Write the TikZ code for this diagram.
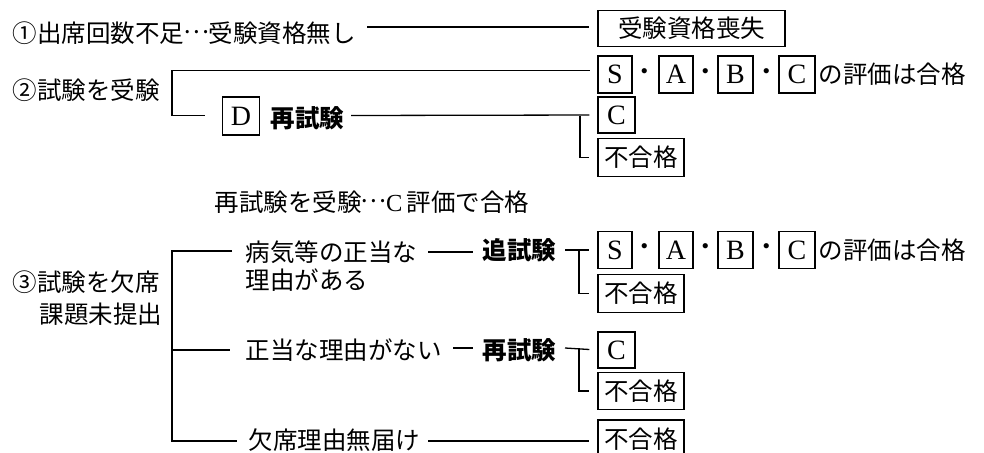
\documentclass[tikz,border=0pt]{standalone}
\usepackage{fontspec}
\setmainfont{Liberation Serif}
\newfontfamily\jp{Noto Sans CJK JP}
\newcommand{\midell}{\makebox[1em]{\raisebox{0.33em}{…}}}
\usetikzlibrary{calc}
\begin{document}
\begin{tikzpicture}[x=1pt,y=-1pt,line width=1.3pt,
  txt/.style={inner sep=0pt,anchor=base west,font=\jp\fontsize{24.5}{28}\selectfont},
  btxt/.style={inner sep=0pt,anchor=base west,font=\jp\bfseries\fontsize{24.5}{28}\selectfont},
  lbox/.style={draw,inner sep=0pt,minimum height=37pt,font=\fontsize{28}{30}\selectfont},
  jbox/.style={draw,inner sep=0pt,minimum height=38pt,font=\jp\fontsize{24.5}{28}\selectfont},
  dot/.style={inner sep=0pt,font=\jp\fontsize{24.5}{28}\selectfont},
  conn/.style={shorten >=8pt}]
\useasboundingbox (0,0) rectangle (984,452);
\clip (0,0) rectangle (984,452);

% ---- row 1
\node[txt] (t1) at (12,42) {①出席回数不足\midell 受験資格無し};
\node[jbox,minimum width=187pt,minimum height=36pt] (b1) at (691.5,28.5) {受験資格喪失};
\coordinate (l1) at (367,27);
\draw[conn] (l1) -- (l1 -| b1.west);

% ---- row 2
\node[txt] (t2) at (12,99) {②試験を受験};
\node[lbox,minimum width=34pt] (s2) at (615,74.5) {S};
\node[dot] (d2a) at (645,74.5) {・};
\node[lbox,minimum width=34pt] (a2) at (676,74.5) {A};
\node[dot] (d2b) at (706,74.5) {・};
\node[lbox,minimum width=35pt] (bb2) at (735.5,74.5) {B};
\node[dot] (d2c) at (767,74.5) {・};
\node[lbox,minimum width=36pt] (c2) at (797,74.5) {C};
\node[txt] (h2) at (818,83.5) {の評価は合格};
\coordinate (br2t) at (172,70.5);
\coordinate (br2b) at (172,115.5);
\coordinate (br2r) at (598,70.5);
\node[lbox,minimum width=37pt,minimum height=38pt] (dbox) at (241,116) {D};
\node[btxt] (re2) at (270,127) {再試験};
\draw[conn] (br2b) -- (br2t) -- (br2r);
\draw (br2b) -- (205,115.5) coordinate (br2e);
\node[lbox,minimum width=37pt,minimum height=36pt] (c2b) at (616.5,115) {C};
\node[jbox,minimum width=86pt] (f2) at (641,157.5) {不合格};
\coordinate (l2) at (351,115.5);
\coordinate (j2) at (580,115.5);
\draw[conn] (l2) -- (c2b.west);
\draw[conn] (j2) |- (f2.west);
\node[txt] (note) at (214,211) {再試験を受験\midell{\fontspec{Liberation Serif}C}\,評価で合格};

% ---- row 3
\node[txt] (t3a) at (12,291) {③試験を欠席};
\node[txt,anchor=base east] (t3b) at (163,323) {課題未提出};
\coordinate (br3t) at (172,251);
\coordinate (br3m) at (172,350);
\coordinate (br3b) at (172,441);
\draw (232,251) -- (br3t) -- (br3b) -- (237,441);
\draw (br3m) -- (230,350);

\node[txt] (p1) at (245,261) {病気等の正当な};
\node[txt] (p2) at (245,289) {理由がある};
\draw (428,252) coordinate (l3a) -- (473,252) coordinate (l3b);
\node[btxt] (tsui) at (482,259) {追試験};
\node[lbox,minimum width=34pt] (s3) at (615,250) {S};
\node[dot] (d3a) at (645,250) {・};
\node[lbox,minimum width=34pt] (a3) at (676,250) {A};
\node[dot] (d3b) at (706,250) {・};
\node[lbox,minimum width=35pt] (bb3) at (735.5,250) {B};
\node[dot] (d3c) at (767,250) {・};
\node[lbox,minimum width=36pt] (c3) at (797,250) {C};
\node[txt] (h3) at (818,259) {の評価は合格};
\node[jbox,minimum width=86pt] (f3) at (641,293.5) {不合格};
\coordinate (k3) at (565,250);
\coordinate (j3) at (579,250);
\draw[conn] (k3) -- (s3.west);
\draw[conn] (j3) |- (f3.west);

\node[txt] (q1) at (245,359) {正当な理由がない};
\draw (453,348) coordinate (l4a) -- (473,348) coordinate (l4b);
\node[btxt] (re4) at (482,359) {再試験};
\node[lbox,minimum width=37pt,minimum height=36pt] (c4) at (616.5,350) {C};
\node[jbox,minimum width=86pt,minimum height=37pt] (f4) at (641,391) {不合格};
\coordinate (k4) at (565,348);
\coordinate (j4) at (579,348);
\draw[conn] (k4) -- (c4.west);
\draw[conn] (j4) |- (f4.west);

\node[txt] (r1) at (248,449) {欠席理由無届け};
\node[jbox,minimum width=86pt] (f5) at (641,439) {不合格};
\coordinate (l5) at (428,441);
\draw[conn] (l5) -- (l5 -| f5.west);
\end{tikzpicture}
\end{document}
